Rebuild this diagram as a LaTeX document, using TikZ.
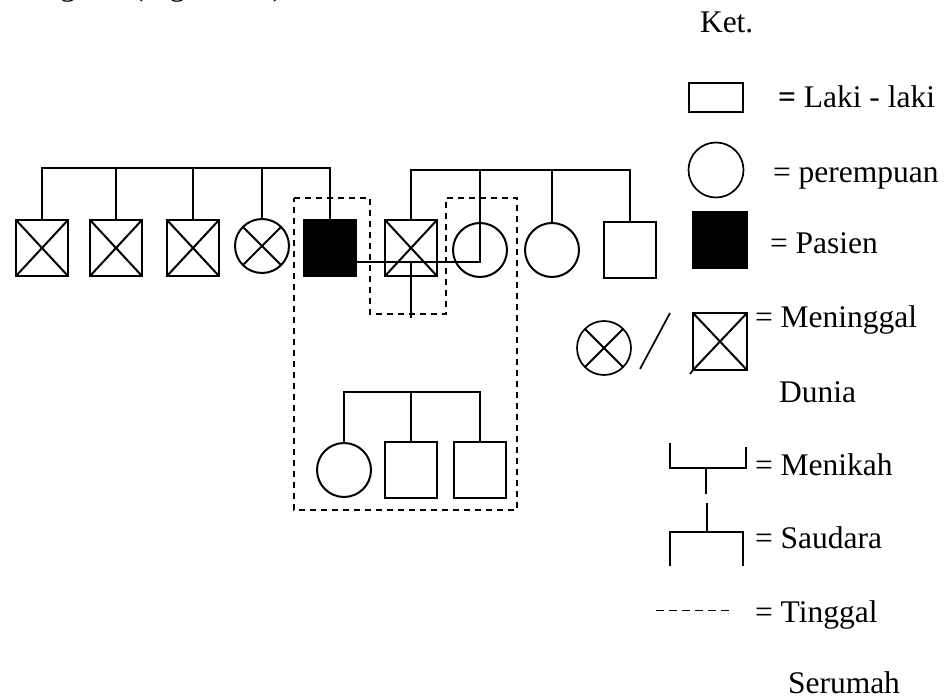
\documentclass[tikz,border=0pt]{standalone}
\usepackage{fontspec}
\setmainfont{Liberation Serif}
\begin{document}
\begin{tikzpicture}[x=1pt,y=-1pt,line width=2pt,
  every node/.style={inner sep=0pt,outer sep=0pt},
  male/.style={draw,rectangle,minimum width=52pt,minimum height=56pt},
  female/.style={draw,circle,minimum size=54pt},
  dead/.style={path picture={\draw[line width=2pt]
     (path picture bounding box.north west) -- (path picture bounding box.south east)
     (path picture bounding box.north east) -- (path picture bounding box.south west);}},
  house/.style={dash pattern=on 6pt off 5pt,line width=1.7pt},
  txt/.style={anchor=base west,font=\fontsize{31.5}{36}\selectfont},
  legline/.style={line width=1.7pt}]
\useasboundingbox (0,0) rectangle (952,698);
\begin{scope}
\clip (0,0) rectangle (952,698);
\node[txt] (cap) at (-8,-4.5) {Genogram (Figure 2.1)};
\end{scope}

% generation of patient
\node[male,dead] (a1) at (42,248) {};
\node[male,dead] (a2) at (116,248) {};
\node[male,dead] (a3) at (193,248) {};
\node[female,dead] (a4) at (262,246) {};
\node[male,fill=black] (p) at (330,248) {};
\node[male,dead] (h) at (411,248) {};
\node[female] (w) at (480,250) {};
\node[female] (b2) at (552,250) {};
\node[male] (b3) at (630,250) {};

\coordinate (t1) at (0,168);
\coordinate (t2) at (0,170);
\coordinate (mar) at (0,262);
\draw (a1.north) -- (a1.north |- t1) -- (p.north |- t1) -- (p.north);
\foreach \n in {a2,a3,a4} \draw (\n.north) -- (\n.north |- t1);
\draw (h.north) -- (h.north |- t2) -- (b3.north |- t2) -- (b3.north);
\draw (b2.north) -- (b2.north |- t2);
\draw (w.center |- t2) -- (w.center |- mar) -- (p.east |- mar);
\coordinate (stemend) at (411,318);
\draw (h.center |- mar) -- (stemend);

% children
\node[female] (k1) at (344,470) {};
\node[male] (k2) at (411,470) {};
\node[male] (k3) at (480,470) {};
\coordinate (t3) at (0,392);
\draw (k1.north) -- (k1.north |- t3) -- (k3.north |- t3) -- (k3.north);
\draw (k2.north) -- (k2.north |- t3);

% household
\draw[house] (294,198) -- (370,198) -- (370,314) -- (446,314) -- (446,198)
  -- (517,198) -- (517,510) -- (294,510) -- cycle;

% legend
\node[txt] (ket) at (700,33) {Ket.};
\node[draw,rectangle,minimum width=54pt,minimum height=29pt,line width=1.7pt] (lm) at (716,97.5) {};
\node[txt] (lmt) at (778,107) {\textbf{=} Laki - laki};
\node[draw,circle,minimum size=55pt,line width=1.7pt] (lf) at (716,170) {};
\node[txt] (lft) at (773,182) {= perempuan};
\node[draw,rectangle,fill=black,minimum width=54pt,minimum height=56pt] (lp) at (720,240) {};
\node[txt] (lpt) at (770,253) {= Pasien};
\node[female,dead,line width=1.7pt] (ldf) at (604,348) {};
\coordinate (sl1) at (670,313);
\coordinate (sl2) at (640,369);
\draw[legline] (sl1) -- (sl2);
\node[male,dead,minimum width=54pt,minimum height=57pt,line width=1.7pt] (ldm) at (720,341.5) {};
\draw[legline] (ldm.south west) -- ++(-3,4);
\node[txt] (ldt) at (755,327) {= Meninggal};
\node[txt] (ldt2) at (779,402) {Dunia};
\draw[legline] (670,443) -- (670,468) -- (746,468) -- (746,447);
\draw[legline] (706,468) -- (706,494);
\node[txt] (lmk) at (755,475) {= Menikah};
\draw[legline] (707,503) -- (707,532);
\draw[legline] (670,566) -- (670,532) -- (743,532) -- (743,566);
\node[txt] (lsd) at (755,548) {= Saudara};
\draw[dash pattern=on 8pt off 5pt,line width=1pt] (656,610) -- (732,610);
\node[txt] (ltg) at (755,622) {= Tinggal};
\node[txt] (ltg2) at (788,693) {Serumah};
\end{tikzpicture}
\end{document}
